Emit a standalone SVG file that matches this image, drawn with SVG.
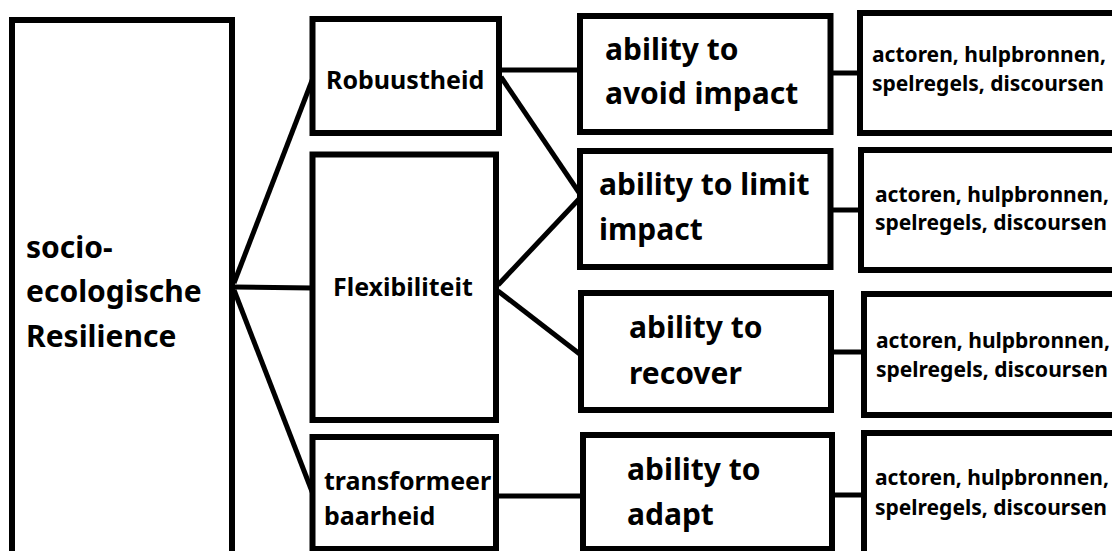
<svg xmlns="http://www.w3.org/2000/svg" width="1112" height="551" viewBox="0 0 1112 551">
<style>
.box{fill:#fff;stroke:#000;stroke-width:6}
.ln{stroke:#000;stroke-width:5;fill:none;stroke-linecap:butt}
text{font-family:"Noto Sans","Open Sans",sans-serif;font-weight:bold;fill:#000}
.big{font-size:30px}
.mid{font-size:25px}
.ab{font-size:30px}
.sm{font-size:21px}
</style>
<rect width="1112" height="551" fill="#fff"/>
<g id="connectors">
<line class="ln" x1="234" y1="283" x2="313" y2="78"/>
<line class="ln" x1="234" y1="287" x2="313" y2="288"/>
<line class="ln" x1="234" y1="290" x2="313" y2="494"/>
<line class="ln" x1="501" y1="70" x2="580" y2="70"/>
<line class="ln" x1="501" y1="77" x2="580" y2="194"/>
<line class="ln" x1="498" y1="285" x2="580" y2="198"/>
<line class="ln" x1="498" y1="291" x2="581" y2="355"/>
<line class="ln" x1="498" y1="496" x2="583" y2="496"/>
<line class="ln" x1="832" y1="73" x2="860" y2="73"/>
<line class="ln" x1="832" y1="210" x2="861" y2="210"/>
<line class="ln" x1="833" y1="352" x2="864" y2="352"/>
<line class="ln" x1="834" y1="495" x2="864" y2="495"/>
</g>
<g id="n-resilience">
<rect class="box" x="12" y="20" width="220" height="545"/>
<text class="big" x="26" y="258">socio-</text>
<text class="big" x="26" y="302">ecologische</text>
<text class="big" x="26" y="347">Resilience</text>
</g>
<g id="n-robuustheid">
<rect class="box" x="312.5" y="19" width="186.5" height="114"/>
<text class="mid" x="326" y="89">Robuustheid</text>
</g>
<g id="n-flexibiliteit">
<rect class="box" x="312.5" y="154.5" width="183.5" height="265.5"/>
<text class="mid" x="333" y="296">Flexibiliteit</text>
</g>
<g id="n-transformeerbaarheid">
<rect class="box" x="312.5" y="437" width="183.5" height="112"/>
<text class="mid" x="324" y="490">transformeer</text>
<text class="mid" x="324" y="525">baarheid</text>
</g>
<g id="n-avoid">
<rect class="box" x="580" y="16" width="250.5" height="116"/>
<text class="ab" x="605" y="60">ability to</text>
<text class="ab" x="605" y="104">avoid impact</text>
</g>
<g id="n-limit">
<rect class="box" x="580" y="151" width="250.5" height="116"/>
<text class="ab" x="599" y="195">ability to limit</text>
<text class="ab" x="599" y="240">impact</text>
</g>
<g id="n-recover">
<rect class="box" x="581" y="293" width="250" height="117"/>
<text class="ab" x="629" y="338">ability to</text>
<text class="ab" x="629" y="384">recover</text>
</g>
<g id="n-adapt">
<rect class="box" x="583" y="435" width="249" height="114"/>
<text class="ab" x="627" y="480">ability to</text>
<text class="ab" x="627" y="525">adapt</text>
</g>
<g id="n-r1">
<rect class="box" x="860" y="13" width="270" height="120"/>
<text class="sm" x="872" y="62">actoren, hulpbronnen,</text>
<text class="sm" x="872" y="91">spelregels, discoursen</text>
</g>
<g id="n-r2">
<rect class="box" x="861" y="150" width="270" height="120"/>
<text class="sm" x="875" y="202">actoren, hulpbronnen,</text>
<text class="sm" x="875" y="230">spelregels, discoursen</text>
</g>
<g id="n-r3">
<rect class="box" x="864" y="294" width="270" height="121"/>
<text class="sm" x="876" y="348">actoren, hulpbronnen,</text>
<text class="sm" x="876" y="377">spelregels, discoursen</text>
</g>
<g id="n-r4">
<rect class="box" x="864" y="433" width="270" height="130"/>
<text class="sm" x="875" y="485">actoren, hulpbronnen,</text>
<text class="sm" x="875" y="515">spelregels, discoursen</text>
</g>
</svg>
